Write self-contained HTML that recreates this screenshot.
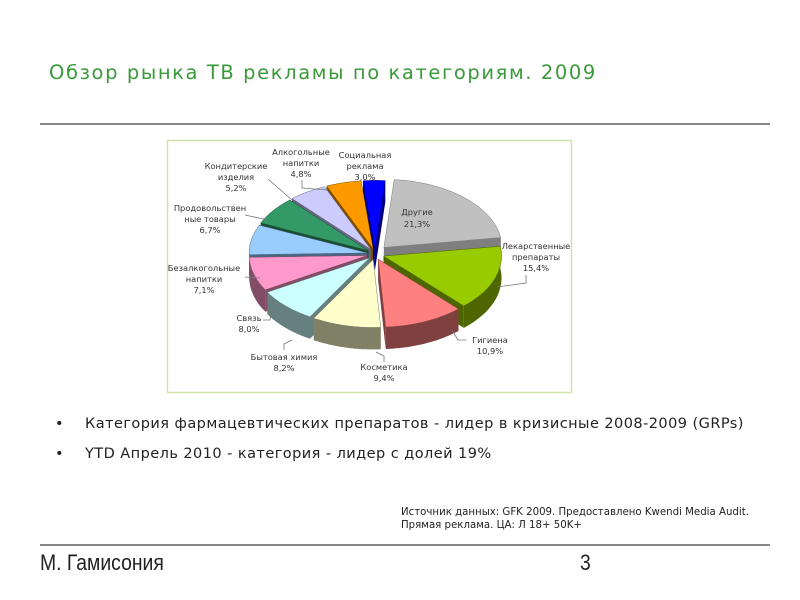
<!DOCTYPE html>
<html><head><meta charset="utf-8">
<style>
body{margin:0;width:800px;height:600px;background:#fff;position:relative;overflow:hidden;font-family:"Liberation Sans","DejaVu Sans",sans-serif}
.t{position:absolute;left:49px;top:61px;font-size:19.5px;color:#3a9a3a;font-family:"DejaVu Sans",sans-serif;letter-spacing:1.6px}
.hl{position:absolute;left:40px;width:730px;height:2px;background:#888}
.b{position:absolute;left:58px;font-size:14.5px;color:#222;font-family:"DejaVu Sans",sans-serif;letter-spacing:0.45px}
.b:before{content:"•";position:absolute;left:-3px}
.b span{margin-left:27px}
.src{position:absolute;left:401px;top:506px;font-size:10.2px;color:#222;line-height:13px;font-family:"DejaVu Sans",sans-serif}
.ft{position:absolute;top:550px;font-size:22px;color:#222;transform:scaleX(0.88);transform-origin:left}
</style></head><body>
<div class="t">Обзор рынка ТВ рекламы по категориям. 2009</div>
<div class="hl" style="top:123px"></div>
<svg id="s" style="position:absolute;left:0;top:0" width="800" height="600">
<rect x="167.5" y="140.5" width="404" height="252" fill="#fff" stroke="#cfe3a8" stroke-width="1.5"/>
<g id="pie"></g>
<g font-family="DejaVu Sans,sans-serif" font-size="8.3" fill="#333" text-anchor="middle">
<text x="365" y="158">Социальная<tspan x="365" dy="11">реклама</tspan><tspan x="365" dy="11">3,0%</tspan></text>
<text x="301" y="155">Алкогольные<tspan x="301" dy="11">напитки</tspan><tspan x="301" dy="11">4,8%</tspan></text>
<text x="236" y="169">Кондитерские<tspan x="236" dy="11">изделия</tspan><tspan x="236" dy="11">5,2%</tspan></text>
<text x="210" y="211">Продовольствен<tspan x="210" dy="11">ные товары</tspan><tspan x="210" dy="11">6,7%</tspan></text>
<text x="417" y="215">Другие<tspan x="417" dy="12">21,3%</tspan></text>
<text x="536" y="249">Лекарственные<tspan x="536" dy="11">препараты</tspan><tspan x="536" dy="11">15,4%</tspan></text>
<text x="204" y="271">Безалкогольные<tspan x="204" dy="11">напитки</tspan><tspan x="204" dy="11">7,1%</tspan></text>
<text x="249" y="321">Связь<tspan x="249" dy="11">8,0%</tspan></text>
<text x="284" y="360">Бытовая химия<tspan x="284" dy="11">8,2%</tspan></text>
<text x="384" y="370">Косметика<tspan x="384" dy="11">9,4%</tspan></text>
<text x="490" y="343">Гигиена<tspan x="490" dy="11">10,9%</tspan></text>
</g>
<g fill="none" stroke="#777" stroke-width="0.8">
<polyline points="302,180 302,188 328,190"/>
<polyline points="268,179 292,200"/>
<polyline points="245,215 268,220"/>
<polyline points="526,275 526,283 497,287"/>
<polyline points="245,277 260,278"/>
<polyline points="263,320 270,320 272,310"/>
<polyline points="284,350 284,344 292,340"/>
<polyline points="384,362 384,356 376,352"/>
<polyline points="466,340 458,340 452,330"/>
</g>
</svg>
<div class="b" style="top:416px"><span>Категория фармацевтических препаратов - лидер в кризисные 2008-2009 (GRPs)</span></div>
<div class="b" style="top:446px"><span>YTD Апрель 2010 -  категория - лидер с долей 19%</span></div>
<div class="src">Источник данных: GFK 2009. Предоставлено Kwendi Media Audit.<br>Прямая реклама. ЦА: Л 18+ 50K+</div>
<div class="hl" style="top:544px"></div>
<div class="ft" style="left:40px">М. Гамисония</div>
<div class="ft" style="left:580px">3</div>
<script>
var data=[[21.3,"#c0c0c0","#7f7f7f",13],[15.4,"#99cc00","#4d6600",9],[10.9,"#ff8080","#804040",8],[9.4,"#ffffcc","#808066",8],[8.2,"#ccffff","#668080",8],[8.0,"#ff99cc","#804c66",8],[7.1,"#99ccff","#4c6680",8],[6.7,"#339966","#1a4d33",8],[5.2,"#ccccff","#666680",8],[4.8,"#ff9900","#804c00",8],[3.0,"#0000ff","#000080",8]];
var cx=375,cy=254,rx=118,ry=68,d=22,a=-85*Math.PI/180,out=[];
function P(x,y){return x.toFixed(1)+","+y.toFixed(1)}
data.forEach(function(s){
 var sp=s[0]/100*2*Math.PI,a0=a,a1=a+sp;a=a1;var m=(a0+a1)/2;
 var ox=cx+s[3]*Math.cos(m),oy=cy+s[3]*0.7*Math.sin(m);
 var g="";
 function pt(t,dz){return P(ox+rx*Math.cos(t),oy+ry*Math.sin(t)+dz)}
 function arc(t0,t1,dz,rev){var p=[],n=30;for(var i=0;i<=n;i++){var t=rev?t1-(t1-t0)*i/n:t0+(t1-t0)*i/n;p.push(pt(t,dz))}return p}
 g+='<polygon fill="'+s[2]+'" points="'+[P(ox,oy),pt(a0,0),pt(a0,d),P(ox,oy+d)].join(" ")+'"/>';
 g+='<polygon fill="'+s[2]+'" points="'+[P(ox,oy),pt(a1,0),pt(a1,d),P(ox,oy+d)].join(" ")+'"/>';
 g+='<polygon fill="'+s[2]+'" points="'+arc(a0,a1,0,false).concat(arc(a0,a1,d,true)).join(" ")+'"/>';
 g+='<polygon fill="'+s[1]+'" stroke="'+s[2]+'" stroke-width="0.5" points="'+[P(ox,oy)].concat(arc(a0,a1,0,false)).join(" ")+'"/>';
 out.push([Math.sin(m),g]);
});
out.sort(function(p,q){return p[0]-q[0]});
document.getElementById("pie").innerHTML=out.map(function(o){return o[1]}).join("");
</script>
</body></html>
